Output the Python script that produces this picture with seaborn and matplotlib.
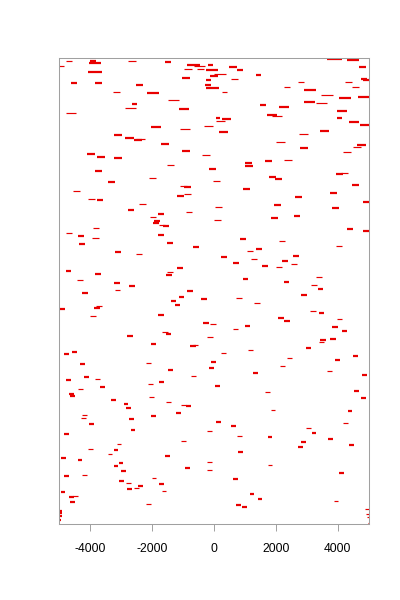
import numpy as np
import pandas as pd
import matplotlib
matplotlib.use("Agg")
import matplotlib.pyplot as plt
import seaborn as sns

sns.set_style("white")
plt.rcParams['font.family'] = ['Liberation Sans', 'DejaVu Sans']
plt.rcParams['axes.unicode_minus'] = False

# segment data: start, end (x units), vertical position, weight (1 = thick, 0 = thin)
x_start = [
    -4770, -4000, -4030, -5000, -2770, -1590, -880, -650, -200, -970, -540, -260, -4060, -130, -1040,
    -260, -4610, -3840, -290, -2520, -260, -3260, -2150, -1480, -2650, -2870, -1130, -4770, -2030, -1100,
    -320, -3230,
    3640, 4290, 480, 740, 0, 4680, 550, 1350, 4740, 4810, 2710, 4230, 2260, 4450, 260, 2900, 3450, 4030,
    4650, 2900, 3290, 1480, 2100, 1710, 1870, 3970, 3970, 60, 260, 60, 4350, 4710, 160, 3420, 2740,
    -2870, -2580, -2520, -1710, -1030, -390, -4100, -3770, -3230, -1520, -3840, -160, -2100, -3420, -30,
    -1100, -970, -4550, -1190, -970, -4060, -3770, -2420, -2770, -1810, -900,
    2000, 2770, 4160, 4610, 4480, 1000, 1000, 1650, 2260, 3940, 4100, 1770, 1970, 4450, 940, 3740, 2610,
    4810, 1940, 30, 3810,
    -2060, -1940, -1970, -1770, -1650, -3900, -4770, -4390, -3940, -1810, -1520, -4360, -680, -3190, -2520,
    -1190, -4770, -3840, -1520, -1550, -4420, -3230, -2740, -3190, -870,
    0, 1840, 2580, 4290, 4810, 840, 2100, 3940, 1060, 1350, 2550, 230, 1190, 610, 2190, 2480, 1550, 2000,
    940, 3290, 2260, 3130, 3350,
    -4260, -1130, -1390, -420, -1260, -5000, -3870, -3810, -4000, -1810, -350, -130, -2810, -1680, -1550,
    -230, -2030, -770, -680, -4580, -4840, -4320, -2190, -100, -160, -1480,
    710, 1290, 2810, 3100, 3390, 2060, 2260, 3970, 1000, 610, 3810, 4130, 3740, 3420, 3390, 2970, 1100,
    230, 2350, 2130, 3900, 4480, 3650,
    -4770, -4190, -3840, -4390, -3680, -4680, -4650, -2130, -1770, -740, -2100, -3320, -2900, -2840, -1550,
    -1060, -900, -1230, -4260, -4290, -2030, -2740, -4030, -2680, -4840, -230, -1060, -3130, -4060, -3230,
    1260, 4770, 30, 1650, 4520, 4740, 1840, 4320, 60, 550, 4160, 2970, 3160, 740, 1740, 3680, 2810, 4350,
    2710,
    -4940, -4390, -3420, -1580, -3230, -3060, -3000, -940, -230, -230, -4840, -4260, -2000, -3060, -2840,
    -1770, -2450, -2580, -2810, -1680, -4940, -4550, -4680, -4650, -2190, -5000, -5000, -5000, -5000,
    770, 1740, 4030, 610, 1160, 1420, 710, 900, 3870, 4870, 4900, 4940, 4970,
]
x_end = [
    -4560, -3810, -3650, -4840, -2520, -1380, -450, -290, -20, -710, -320, 130, -3610, 130, -760,
    -90, -4420, -3610, -100, -2290, 160, -3040, -1770, -1130, -2480, -2520, -810, -4450, -1710, -770,
    -30, -2950,
    4130, 4680, 740, 940, 390, 4900, 770, 1520, 4940, 5000, 2900, 4450, 2450, 4680, 420, 3290, 3840, 4420,
    5000, 3260, 3650, 1680, 2420, 2030, 2190, 4290, 4130, 190, 550, 350, 4680, 5000, 450, 3710, 3030,
    -2580, -2320, -2230, -1450, -770, -130, -3840, -3520, -2970, -1290, -3610, 60, -1870, -3190, 190,
    -870, -740, -4320, -970, -740, -3840, -3580, -2190, -2580, -1610, -710,
    2290, 3030, 4420, 4900, 4740, 1230, 1260, 1870, 2520, 4160, 4320, 2000, 2190, 4680, 1160, 3970, 2840,
    5000, 2160, 260, 4030,
    -1870, -1740, -1770, -1580, -1450, -3710, -4580, -4190, -3710, -1610, -1320, -4160, -480, -3000, -2320,
    -1000, -4610, -3650, -1320, -1350, -4230, -3030, -2550, -3030, -680,
    230, 2060, 2770, 4480, 5000, 1030, 2290, 4130, 1260, 1550, 2740, 420, 1390, 810, 2390, 2680, 1740, 2190,
    1100, 3480, 2420, 3320, 3520,
    -4060, -970, -1230, -230, -1100, -4810, -3680, -3610, -3810, -1610, -160, 60, -2610, -1480, -1390,
    -30, -1870, -580, -520, -4420, -4680, -4160, -2030, 60, 0, -1320,
    900, 1480, 3000, 3290, 3550, 2260, 2450, 4130, 1160, 770, 4000, 4290, 3940, 3610, 3550, 3130, 1260,
    390, 2520, 2290, 4060, 4650, 3810,
    -4610, -4030, -3680, -4230, -3520, -4520, -4480, -1970, -1610, -580, -1940, -3160, -2770, -2680, -1390,
    -900, -740, -1060, -4100, -4130, -1870, -2580, -3870, -2550, -4680, -60, -900, -3000, -3900, -3100,
    1420, 4940, 190, 1810, 4680, 4900, 1970, 4450, 230, 710, 4320, 3130, 3290, 900, 1870, 3840, 2970, 4520,
    2870,
    -4770, -4260, -3290, -1420, -3100, -2940, -2840, -770, -60, -60, -4680, -4100, -1870, -2900, -2680,
    -1610, -2290, -2420, -2650, -1550, -4810, -4390, -4520, -4480, -2030, -4900, -4900, -4900, -4940,
    940, 1870, 4190, 770, 1290, 1550, 870, 1060, 4000, 5000, 5000, 5000, 5000,
]
y_pos = [
    463, 462.5, 461, 458, 463, 461.5, 459, 457.5, 459, 454.5, 454.5, 453.5, 451.5, 448, 446,
    443.5, 440.5, 440.5, 438.5, 438.5, 435.5, 431.5, 430.5, 424, 419.5, 416, 414.5, 411, 396.5, 395,
    398, 388.5,
    464.5, 464, 456.5, 453.5, 449.5, 456.5, 445, 448.5, 444.5, 443.5, 442, 442, 437, 437, 432, 433.5, 428.5, 425.5,
    427, 422, 421, 419, 417, 409, 407.5, 412.5, 406, 406, 404.5, 402.5, 401.5, 399, 391.5, 393, 389.5,
    386, 383.5, 384.5, 380, 373, 368.5, 370, 367, 365.5, 358.5, 352.5, 354.5, 345.5, 341.5, 342.5,
    337.5, 336.5, 332.5, 328, 329.5, 324.5, 323.5, 319.5, 313.5, 310, 311.5,
    382, 375.5, 371.5, 378.5, 376.5, 360.5, 357.5, 362.5, 363.5, 349.5, 350.5, 347, 344.5, 339, 334.5, 331, 326.5,
    321.5, 318.5, 317, 315.5,
    306.5, 302.5, 300.5, 298.5, 297.5, 295.5, 291, 287.5, 285.5, 289, 281, 279.5, 276.5, 271.5, 269.5,
    255.5, 253, 250, 251.5, 248.5, 243.5, 240.5, 237.5, 233.5, 232.5,
    304, 305.5, 308, 294.5, 292.5, 284.5, 282.5, 277.5, 272.5, 274.5, 268, 266.5, 264.5, 261, 263, 259.5, 258, 256.5,
    245, 247, 242, 238.5, 235,
    231, 227, 222.5, 224.5, 219, 214.5, 216, 217.5, 207.5, 209, 201, 199.5, 188, 191.5, 190,
    187, 180, 177.5, 178.5, 172, 169.5, 159.5, 160.5, 162, 156, 154,
    225.5, 220.5, 229, 212.5, 211, 206, 203, 204.5, 198, 194.5, 196.5, 193, 185, 183.5, 181.5, 175.5, 173.5,
    170.5, 165.5, 157.5, 164, 167.5, 152.5,
    143.5, 146.5, 145, 135, 136.5, 130, 128, 139.5, 141.5, 147.5, 127, 123.5, 120, 115.5, 121.5,
    119, 117.5, 110.5, 108.5, 105.5, 107.5, 104.5, 99.5, 94, 89.5, 92.5, 82.5, 79.5, 75, 73.5,
    151, 149, 138, 131.5, 133, 125.5, 113.5, 112.5, 102, 97.5, 100.5, 95.5, 91, 88, 86.5, 84.5, 81.5, 78.5,
    76.5,
    65.5, 63.5, 69.5, 67.5, 57.5, 60.5, 52.5, 55.5, 62, 54, 47.5, 49, 46, 42.5, 40.5,
    39.5, 37.5, 35.5, 34.5, 33, 31.5, 27.5, 26.5, 21.5, 20, 13, 10.5, 8, 4,
    71.5, 58.5, 50.5, 44.5, 29.5, 24.5, 18.5, 16.5, 22.5, 14.5, 10, 7, 1,
]
weight = [
    0, 1, 1, 0, 0, 1, 1, 0, 1, 0, 0, 1, 1, 1, 1,
    1, 1, 1, 1, 1, 1, 0, 1, 0, 1, 0, 1, 0, 1, 0,
    0, 1,
    1, 1, 1, 1, 0, 1, 0, 1, 1, 1, 0, 0, 0, 0, 0, 1, 0, 1,
    1, 1, 0, 1, 1, 1, 0, 1, 1, 1, 1, 0, 1, 1, 1, 1, 0,
    1, 1, 0, 1, 1, 0, 1, 1, 1, 0, 1, 1, 0, 1, 0,
    0, 1, 0, 1, 0, 0, 1, 0, 1, 1, 0,
    0, 1, 0, 1, 0, 1, 1, 1, 0, 1, 0, 1, 1, 1, 1, 1, 1,
    1, 1, 0, 1,
    0, 1, 1, 0, 1, 0, 0, 1, 0, 1, 1, 1, 1, 1, 0,
    1, 1, 1, 0, 1, 0, 1, 1, 0, 1,
    0, 1, 1, 1, 1, 1, 0, 0, 0, 1, 1, 1, 0, 1, 1, 0, 1, 0,
    1, 0, 1, 0, 1,
    1, 1, 1, 1, 1, 1, 1, 0, 0, 1, 1, 0, 1, 0, 1,
    0, 1, 1, 0, 1, 1, 1, 0, 1, 1, 1,
    0, 0, 1, 0, 1, 1, 1, 0, 1, 0, 1, 1, 1, 1, 0, 1, 0,
    0, 0, 0, 1, 1, 0,
    1, 1, 0, 0, 1, 1, 1, 0, 1, 0, 0, 1, 1, 1, 0,
    0, 1, 1, 0, 0, 1, 1, 1, 1, 1, 0, 0, 0, 0, 1,
    1, 1, 1, 0, 1, 1, 0, 1, 1, 1, 0, 0, 1, 0, 1, 1, 1, 1,
    1,
    1, 1, 0, 1, 1, 1, 1, 1, 0, 0, 1, 0, 0, 1, 0,
    1, 1, 0, 1, 0, 1, 0, 1, 1, 0, 1, 1, 1, 1,
    1, 0, 1, 1, 1, 1, 1, 1, 0, 0, 0, 0, 0,
]
tick_values = [-4000, -2000, 0, 2000, 4000]
tick_labels = ["-4000", "-2000", "0", "2000", "4000"]

n = min(len(x_start), len(x_end), len(y_pos), len(weight))
seg_id = np.repeat(np.arange(n), 2)
xs = np.empty(2 * n)
xs[0::2] = x_start[:n]
xs[1::2] = x_end[:n]
df = pd.DataFrame({
    "seg": seg_id,
    "x": xs,
    "y": np.repeat(y_pos[:n], 2),
    "w": np.repeat(weight[:n], 2),
})

fig = plt.figure(figsize=(4, 6), dpi=100)
ax = fig.add_axes([0.147, 0.1267, 0.775, 0.7767])
for wv, lw in [(0, 0.85), (1, 1.6)]:
    sub = df[df["w"] == wv]
    sns.lineplot(data=sub, x="x", y="y", units="seg", estimator=None,
                 color="#e80000", linewidth=lw, legend=False,
                 sort=False, ax=ax, solid_capstyle="butt")
ax.set_xlim(-5000, 5000)
ax.set_ylim(0, 466)
ax.set_xlabel("")
ax.set_ylabel("")
ax.set_yticks([])
ax.set_xticks(tick_values)
ax.set_xticklabels(tick_labels, fontsize=8.7, color="black")
ax.tick_params(axis="x", length=5, width=0.7, color="#a0a0a0", pad=8.5, direction="out", bottom=True)
for s in ax.spines.values():
    s.set_color("#a0a0a0")
    s.set_linewidth(0.75)
fig.savefig("out.png", dpi=100)
